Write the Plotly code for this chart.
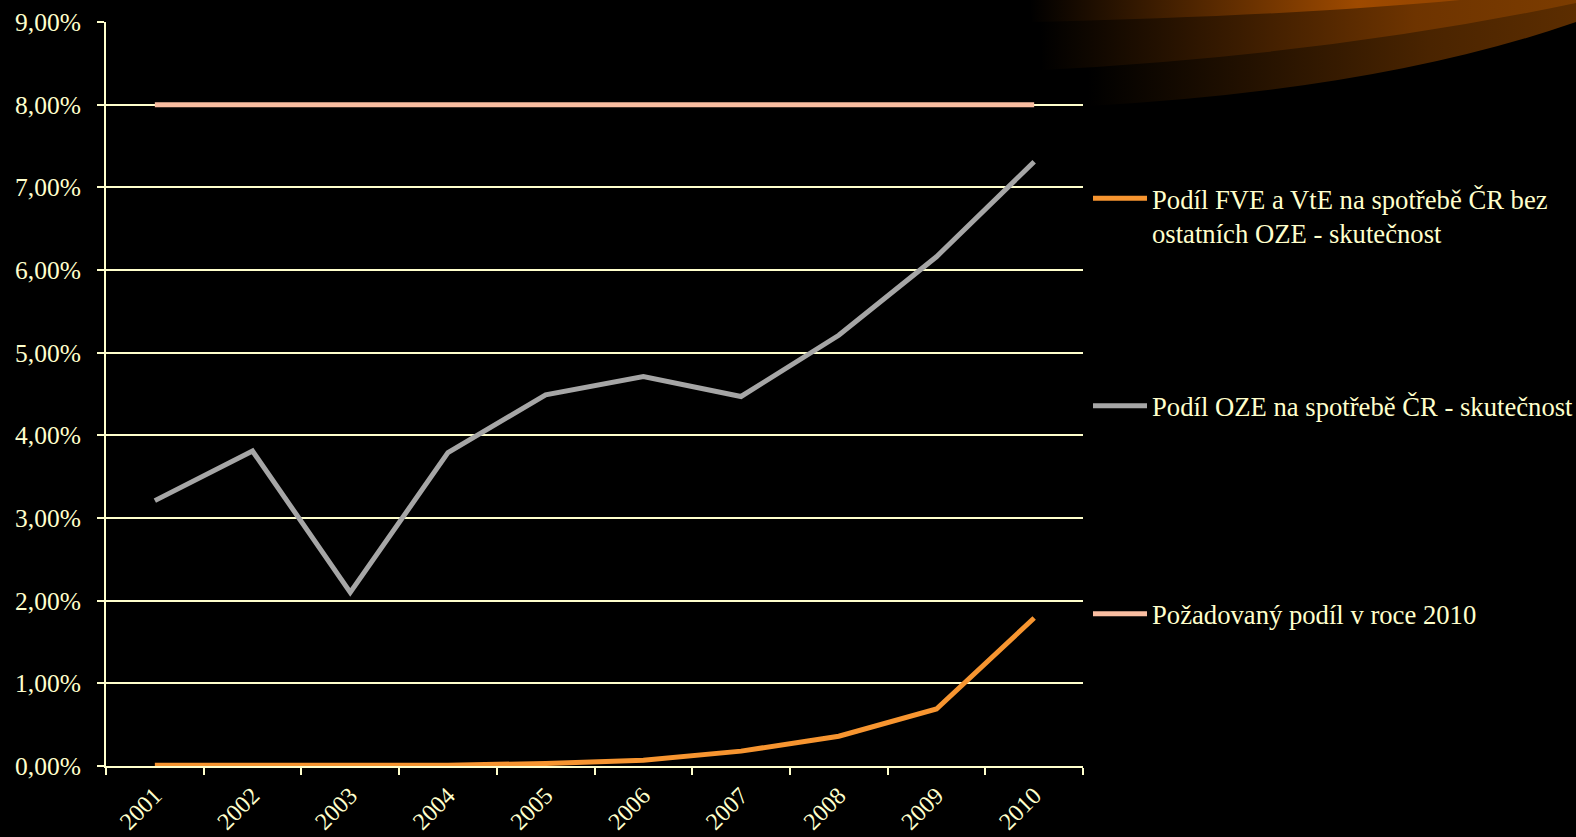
import base64
import plotly.graph_objects as go

years = ["2001", "2002", "2003", "2004", "2005", "2006", "2007", "2008", "2009", "2010"]
fve_vte = [0.0001, 0.0001, 0.0002, 0.0001, 0.0003, 0.0007, 0.0018, 0.0036, 0.0069, 0.0179]
oze = [0.0321, 0.0381, 0.0210, 0.0379, 0.0449, 0.0471, 0.0447, 0.0521, 0.0616, 0.0731]
target = [0.08] * 10

names = [
    "Podíl FVE a VtE na spotřebě ČR bez<br>ostatních OZE - skutečnost",
    "Podíl OZE na spotřebě ČR - skutečnost",
    "Požadovaný podíl v roce 2010",
]
colors = ["#F79530", "#A6A6A6", "#F9BDA0"]

W, H = 1576, 837
CREAM = "#FFFFCC"
FONT = "Liberation Serif, serif"

svg = f'''<svg xmlns="http://www.w3.org/2000/svg" width="{W}" height="{H}" viewBox="0 0 {W} {H}">
<defs>
<linearGradient id="g1" x1="1030" y1="0" x2="1576" y2="0" gradientUnits="userSpaceOnUse">
<stop offset="0" stop-color="#000000"/><stop offset="0.6" stop-color="#9E4A00"/><stop offset="1" stop-color="#8A4000"/></linearGradient>
<linearGradient id="g2" x1="1040" y1="0" x2="1576" y2="0" gradientUnits="userSpaceOnUse">
<stop offset="0" stop-color="#000000"/><stop offset="0.7" stop-color="#6E3400"/><stop offset="1" stop-color="#7C3C00"/></linearGradient>
<linearGradient id="g3" x1="1088" y1="0" x2="1576" y2="0" gradientUnits="userSpaceOnUse">
<stop offset="0" stop-color="#000000"/><stop offset="0.7" stop-color="#4A2400"/><stop offset="1" stop-color="#5C2D00"/></linearGradient>
</defs>
<path d="M1086,0 L1088,106 Q1380,90 1576,22 L1576,0 Z" fill="url(#g3)"/>
<path d="M1040,0 L1042,70 Q1330,55 1576,3 L1576,0 Z" fill="url(#g2)"/>
<path d="M1030,0 L1032,22 Q1290,16 1460,0 Z" fill="url(#g1)"/>
</svg>'''
svg_uri = "data:image/svg+xml;base64," + base64.b64encode(svg.encode()).decode()

fig = go.Figure()
series = [fve_vte, oze, target]
legends = ["legend", "legend2", "legend3"]
for vals, name, col, lg in zip(series, names, colors, legends):
    fig.add_trace(go.Scatter(
        x=years, y=vals, name=name, mode="lines",
        line=dict(color=col, width=5),
        legend=lg,
    ))

x0, x1 = 106 / W, 1083 / W
y0, y1 = 1 - 766 / H, 1 - 22 / H

leg_common = dict(
    font=dict(family=FONT, size=26.67, color=CREAM),
    bgcolor="rgba(0,0,0,0)",
    xanchor="left", yanchor="middle", x=1088 / W,
    valign="top", itemwidth=54, tracegroupgap=0,
)

fig.update_layout(
    width=W, height=H,
    margin=dict(l=0, r=0, t=0, b=0, autoexpand=False),
    paper_bgcolor="#000000",
    plot_bgcolor="rgba(0,0,0,0)",
    separators=", ",
    font=dict(family=FONT, size=26, color=CREAM),
    showlegend=True,
    legend=dict(**leg_common, y=1 - 216 / H),
    legend2=dict(**leg_common, y=1 - 406 / H),
    legend3=dict(**leg_common, y=1 - 614 / H),
    xaxis=dict(
        domain=[x0, x1], type="category", range=[-0.5, 9.5], automargin=False,
        showgrid=False, showline=True, linecolor=CREAM, linewidth=2,
        ticks="outside", ticklen=7, tickwidth=2, tickcolor=CREAM,
        tickson="boundaries", tickangle=-45, ticklabelstandoff=4,
        tickfont=dict(family=FONT, size=24, color=CREAM),
    ),
    yaxis=dict(
        domain=[y0, y1], range=[0, 0.09], dtick=0.01, tickformat=".2%", automargin=False,
        showgrid=True, gridcolor=CREAM, gridwidth=2,
        showline=True, linecolor=CREAM, linewidth=2,
        ticks="outside", ticklen=7, tickwidth=2, tickcolor=CREAM,
        ticklabelstandoff=11, zeroline=False,
        tickfont=dict(family=FONT, size=25.5, color=CREAM),
    ),
    images=[dict(
        source=svg_uri, xref="paper", yref="paper", x=0, y=1,
        sizex=1, sizey=1, xanchor="left", yanchor="top",
        sizing="stretch", layer="below",
    )],
)

fig.write_html("out.html")
